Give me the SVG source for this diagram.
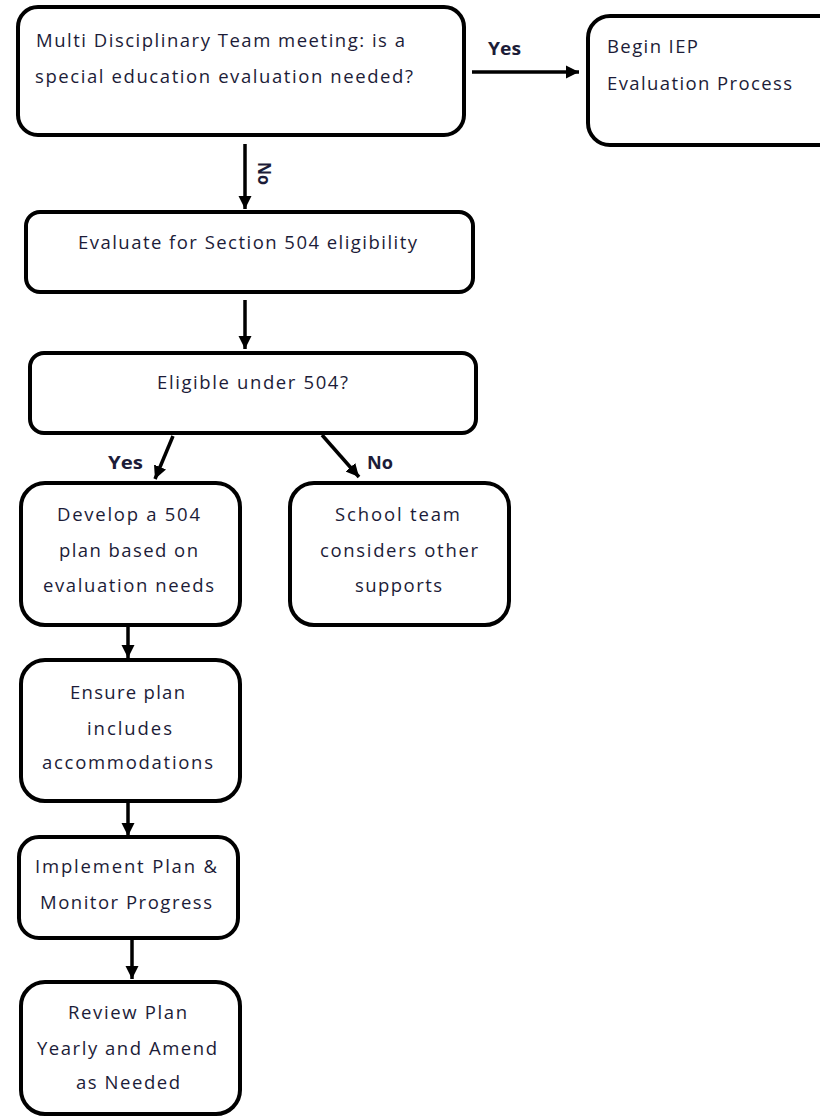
<svg xmlns="http://www.w3.org/2000/svg" width="820" height="1117" viewBox="0 0 820 1117">
<defs>
<marker id="ah" markerUnits="userSpaceOnUse" markerWidth="16" markerHeight="16" viewBox="0 0 16 16" refX="13" refY="8" orient="auto">
<path d="M0,1.5 L13,8 L0,14.5 Z" fill="#000"/>
</marker>
<style>
.box{fill:#fff;stroke:#000;stroke-width:4}
.t{font-family:"Open Sans","Liberation Sans",sans-serif;font-size:18.5px;fill:#1c1c38}
.lbl{font-family:"Open Sans","Liberation Sans",sans-serif;font-size:18px;font-weight:bold;fill:#1c1c38}
.con{stroke:#000;stroke-width:3.5;fill:none;marker-end:url(#ah)}
</style>
</defs>
<rect width="820" height="1117" fill="#fff"/>
<g id="connectors">
<line class="con" x1="472" y1="72" x2="579" y2="72"/>
<line class="con" x1="245" y1="144" x2="245" y2="209"/>
<line class="con" x1="245" y1="300" x2="245" y2="349"/>
<line class="con" x1="173" y1="436" x2="155" y2="479"/>
<line class="con" x1="322" y1="435" x2="359" y2="477"/>
<line class="con" x1="128" y1="626" x2="128" y2="658"/>
<line class="con" x1="128" y1="803" x2="128" y2="836"/>
<line class="con" x1="132" y1="940" x2="132" y2="979"/>
<text class="lbl" x="488" y="55" textLength="33" lengthAdjust="spacingAndGlyphs">Yes</text>
<text class="lbl" x="108" y="469" textLength="35" lengthAdjust="spacingAndGlyphs">Yes</text>
<text class="lbl" x="367" y="469" textLength="26" lengthAdjust="spacingAndGlyphs">No</text>
<text class="lbl" transform="translate(258,162) rotate(90)" x="0" y="0" textLength="23" lengthAdjust="spacingAndGlyphs">No</text>
</g>
<g id="n1">
<rect class="box" x="18" y="7" width="446" height="128" rx="20"/>
<text class="t" x="36" y="47" textLength="369" lengthAdjust="spacing">Multi Disciplinary Team meeting: is a</text>
<text class="t" x="35" y="83" textLength="378" lengthAdjust="spacing">special education evaluation needed?</text>
</g>
<g id="n2">
<rect class="box" x="588" y="16" width="260" height="129" rx="22"/>
<text class="t" x="607" y="53" textLength="91" lengthAdjust="spacing">Begin IEP</text>
<text class="t" x="607" y="90" textLength="185" lengthAdjust="spacing">Evaluation Process</text>
</g>
<g id="n3">
<rect class="box" x="26" y="212" width="447" height="80" rx="14"/>
<text class="t" x="78" y="249" textLength="339" lengthAdjust="spacing">Evaluate for Section 504 eligibility</text>
</g>
<g id="n4">
<rect class="box" x="30" y="353" width="446" height="80" rx="14"/>
<text class="t" x="157" y="389" textLength="191" lengthAdjust="spacing">Eligible under 504?</text>
</g>
<g id="n5">
<rect class="box" x="21" y="483" width="219" height="142" rx="24"/>
<text class="t" x="57" y="521" textLength="143" lengthAdjust="spacing">Develop a 504</text>
<text class="t" x="59" y="557" textLength="139" lengthAdjust="spacing">plan based on</text>
<text class="t" x="43" y="592" textLength="171" lengthAdjust="spacing">evaluation needs</text>
</g>
<g id="n6">
<rect class="box" x="290" y="483" width="219" height="142" rx="24"/>
<text class="t" x="335" y="521" textLength="125" lengthAdjust="spacing">School team</text>
<text class="t" x="320" y="557" textLength="158" lengthAdjust="spacing">considers other</text>
<text class="t" x="355" y="592" textLength="87" lengthAdjust="spacing">supports</text>
</g>
<g id="n7">
<rect class="box" x="21" y="660" width="219" height="141" rx="24"/>
<text class="t" x="70" y="699" textLength="115" lengthAdjust="spacing">Ensure plan</text>
<text class="t" x="87" y="735" textLength="85" lengthAdjust="spacing">includes</text>
<text class="t" x="42" y="769" textLength="171" lengthAdjust="spacing">accommodations</text>
</g>
<g id="n8">
<rect class="box" x="19" y="837" width="219" height="101" rx="20"/>
<text class="t" x="35" y="873" textLength="182" lengthAdjust="spacing">Implement Plan &amp;</text>
<text class="t" x="40" y="909" textLength="172" lengthAdjust="spacing">Monitor Progress</text>
</g>
<g id="n9">
<rect class="box" x="21" y="982" width="219" height="132" rx="24"/>
<text class="t" x="68" y="1019" textLength="119" lengthAdjust="spacing">Review Plan</text>
<text class="t" x="37" y="1055" textLength="180" lengthAdjust="spacing">Yearly and Amend</text>
<text class="t" x="76" y="1089" textLength="104" lengthAdjust="spacing">as Needed</text>
</g>
</svg>
